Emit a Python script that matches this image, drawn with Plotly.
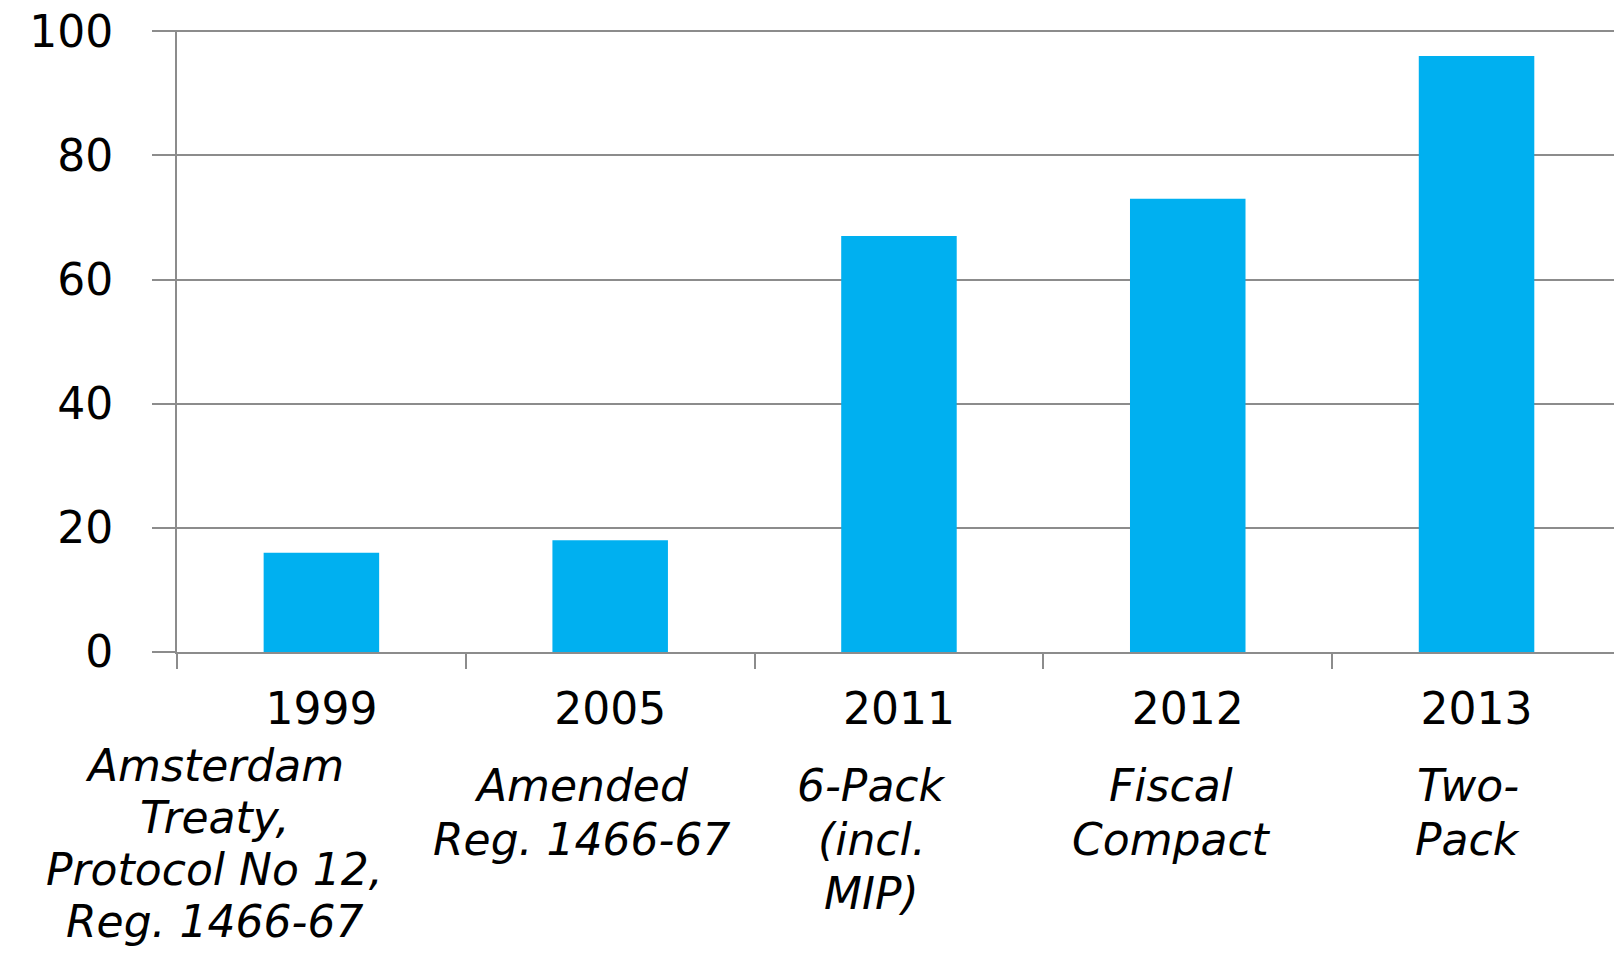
import plotly.graph_objects as go

years = ["1999", "2005", "2011", "2012", "2013"]
values = [16, 18, 67, 73, 96]
descriptions = [
    ["Amsterdam", "Treaty,", "Protocol No 12,", "Reg. 1466-67"],
    ["Amended", "Reg. 1466-67"],
    ["6-Pack", "(incl.", "MIP)"],
    ["Fiscal", "Compact"],
    ["Two-", "Pack"],
]
y_ticks = [0, 20, 40, 60, 80, 100]

# layout helpers (pixel offsets for the italic description lines)
desc_xshift = [-107, -29, -27, -16, -9]
desc_first_line = [765, 785, 785, 785, 785]
desc_step = [52, 54, 54, 54, 54]

W, H = 1614, 954
top, bottom = 30, 302
plot_bottom = H - bottom

BAR = "#00B0F0"
GRID = "#8C8C8C"
FONT = "DejaVu Sans"
FS = 44

fig = go.Figure()
fig.add_trace(go.Bar(x=years, y=values, marker=dict(color=BAR, line=dict(width=0)), width=0.4))

ann = []
for i, lines in enumerate(descriptions):
    for j, line in enumerate(lines):
        yc = desc_first_line[i] + j * desc_step[i]
        ann.append(dict(
            x=i, xref="x", y=0, yref="paper",
            text=line, showarrow=False, xanchor="center", yanchor="middle",
            xshift=desc_xshift[i], yshift=-(yc - plot_bottom),
            font=dict(family=FONT, size=FS, color="#000000", style="italic"),
            borderpad=0,
        ))

fig.update_layout(
    width=W, height=H,
    margin=dict(l=177, r=0, t=top, b=bottom, pad=0),
    paper_bgcolor="white", plot_bgcolor="white",
    showlegend=False,
    annotations=ann,
    xaxis=dict(
        type="category", range=[-0.5, 4.476],
        showgrid=False, showline=True, linecolor=GRID, linewidth=2,
        ticks="outside", tickson="boundaries", ticklen=15, tickwidth=2, tickcolor=GRID,
        tickfont=dict(family=FONT, size=FS, color="#000000"),
        ticklabelstandoff=17,
        fixedrange=True,
    ),
    yaxis=dict(
        range=[0, 100.2], tickvals=y_ticks,
        showgrid=True, gridcolor=GRID, gridwidth=2,
        showline=True, linecolor=GRID, linewidth=2,
        ticks="outside", ticklen=23, tickwidth=2, tickcolor=GRID,
        tickfont=dict(family=FONT, size=FS, color="#000000"),
        ticklabelstandoff=30,
        zeroline=False,
    ),
)

fig.write_html("out.html")
